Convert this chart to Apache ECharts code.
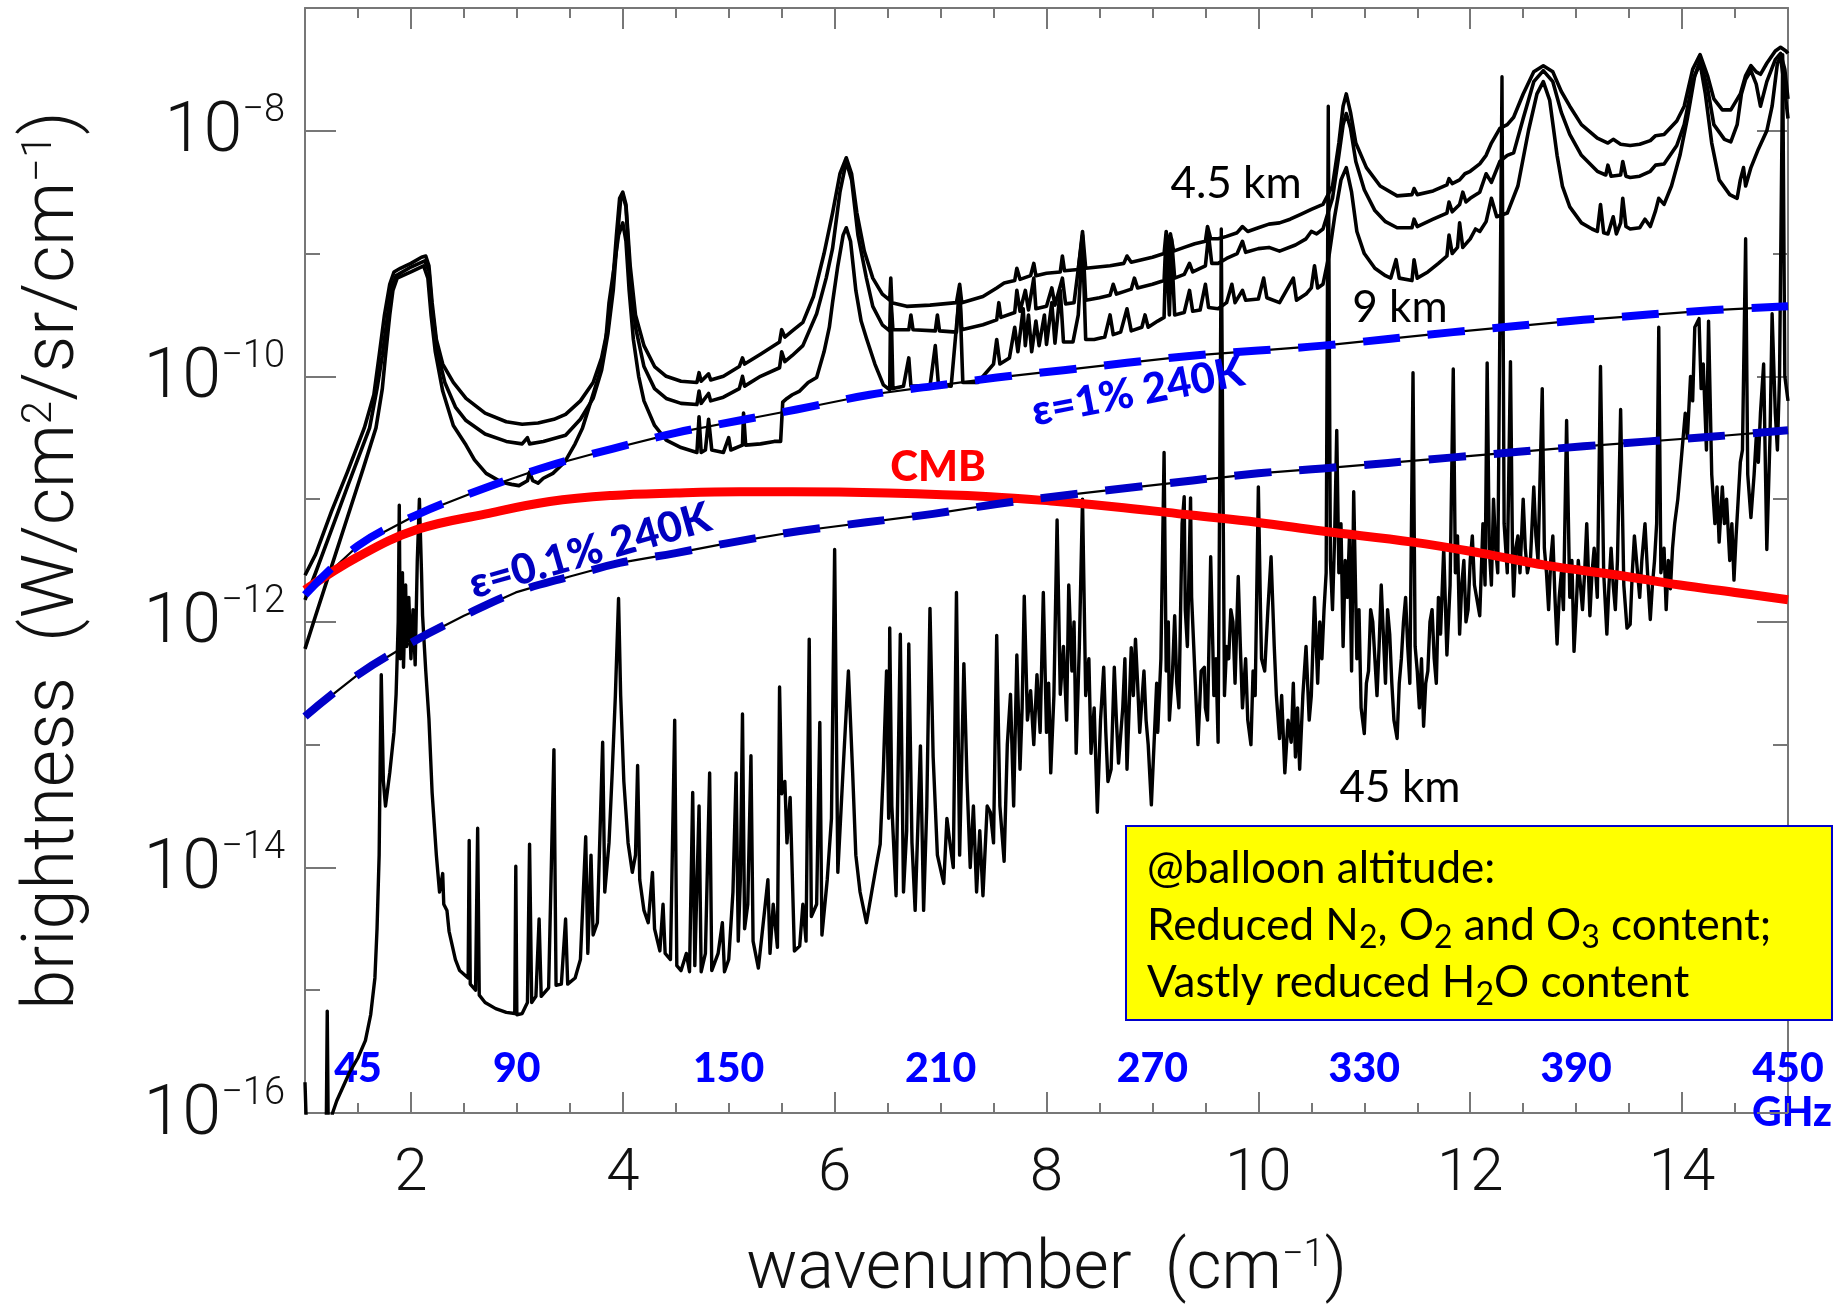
<!DOCTYPE html>
<html><head><meta charset="utf-8">
<script src="https://cdn.jsdelivr.net/npm/echarts@6/dist/echarts.min.js"></script>
<style>html,body{margin:0;padding:0;background:#fff}#c{width:1842px;height:1310px}</style>
</head><body><div id="c"></div>
<script>
// ---- axis ticks / labels ----
const xMajorTicks = [2, 4, 6, 8, 10, 12, 14];
const yMajorExps = [-16, -14, -12, -10, -8];
const yMinorExps = [-15, -13, -11, -9];
const ghzTicks = [45, 90, 150, 210, 270, 330, 390, 450];

// ---- series: [wavenumber cm^-1, log10 brightness W/cm^2/sr/cm^-1] ----
const cmbLog = [[1.0,-11.74],[1.5,-11.47],[2.05,-11.25],[2.71,-11.12],[3.31,-11.02],[3.9,-10.97],[4.5,-10.95],[5.1,-10.94],[5.6,-10.94],[6.5,-10.95],[7.47,-10.98],[8.1,-11.02],[8.73,-11.07],[9.36,-11.13],[10.0,-11.19],[10.6,-11.26],[11.46,-11.35],[12.1,-11.44],[12.72,-11.54],[13.4,-11.62],[13.98,-11.70],[14.5,-11.76],[15.0,-11.82]];

const eps1Log = [[1.0,-11.78],[1.5,-11.38],[2.05,-11.13],[2.7,-10.91],[3.3,-10.73],[3.9,-10.59],[4.5,-10.46],[5.1,-10.36],[5.64,-10.27],[6.33,-10.15],[6.93,-10.08],[7.53,-10.01],[8.16,-9.95],[8.76,-9.89],[9.4,-9.83],[10.0,-9.79],[10.61,-9.75],[11.84,-9.64],[13.07,-9.54],[14.3,-9.46],[15.0,-9.43]];

const eps01Log = [[1.0,-12.77],[1.5,-12.43],[1.98,-12.18],[2.5,-11.95],[2.99,-11.76],[3.5,-11.63],[3.97,-11.52],[4.5,-11.44],[4.98,-11.36],[5.67,-11.26],[6.93,-11.12],[7.53,-11.04],[8.16,-10.97],[8.76,-10.91],[10.0,-10.79],[10.61,-10.75],[11.84,-10.66],[13.07,-10.57],[14.3,-10.49],[15.0,-10.44]];

const alt4p5kmLog = [[1.0,-11.62],[1.1,-11.45],[1.25,-11.1],[1.4,-10.78],[1.56,-10.42],[1.65,-10.15],[1.70,-9.83],[1.75,-9.5],[1.80,-9.25],[1.84,-9.15],[1.9,-9.12],[2.0,-9.08],[2.1,-9.03],[2.14,-9.02],[2.17,-9.1],[2.2,-9.4],[2.24,-9.7],[2.3,-9.9],[2.4,-10.05],[2.52,-10.18],[2.7,-10.3],[2.9,-10.37],[3.05,-10.39],[3.2,-10.38],[3.35,-10.35],[3.46,-10.31],[3.6,-10.2],[3.72,-10.05],[3.8,-9.85],[3.86,-9.6],[3.9,-9.3],[3.94,-8.85],[3.97,-8.55],[4.0,-8.5],[4.03,-8.6],[4.07,-9.1],[4.12,-9.5],[4.2,-9.75],[4.3,-9.92],[4.41,-10.0],[4.55,-10.04],[4.7,-10.05],[4.72,-9.97],[4.74,-10.04],[4.81,-9.98],[4.83,-10.03],[4.95,-10.0],[5.1,-9.92],[5.13,-9.85],[5.15,-9.9],[5.3,-9.82],[5.48,-9.72],[5.50,-9.62],[5.53,-9.68],[5.6,-9.63],[5.7,-9.56],[5.8,-9.35],[5.9,-9.0],[5.98,-8.67],[6.05,-8.35],[6.11,-8.22],[6.16,-8.35],[6.21,-8.67],[6.28,-8.98],[6.36,-9.2],[6.45,-9.33],[6.52,-9.38],[6.53,-9.2],[6.54,-9.4],[6.68,-9.43],[6.9,-9.42],[7.15,-9.40],[7.18,-9.25],[7.2,-9.40],[7.4,-9.35],[7.53,-9.28],[7.6,-9.24],[7.7,-9.22],[7.72,-9.12],[7.75,-9.21],[7.85,-9.18],[7.88,-9.08],[7.9,-9.18],[8.0,-9.16],[8.13,-9.15],[8.15,-9.02],[8.17,-9.14],[8.3,-9.13],[8.34,-8.82],[8.37,-9.12],[8.6,-9.10],[8.73,-9.08],[8.76,-9.02],[8.8,-9.07],[9.0,-9.03],[9.11,-9.0],[9.13,-8.82],[9.15,-8.98],[9.17,-8.84],[9.2,-8.98],[9.3,-8.95],[9.4,-8.92],[9.5,-8.9],[9.52,-8.78],[9.55,-8.88],[9.62,-8.88],[9.7,-8.86],[9.8,-8.83],[9.85,-8.78],[9.9,-8.82],[10.0,-8.79],[10.1,-8.76],[10.2,-8.75],[10.3,-8.72],[10.4,-8.68],[10.5,-8.64],[10.61,-8.6],[10.7,-8.45],[10.76,-8.1],[10.8,-7.8],[10.83,-7.7],[10.87,-7.85],[10.92,-8.1],[11.02,-8.3],[11.15,-8.45],[11.31,-8.53],[11.45,-8.52],[11.47,-8.47],[11.5,-8.52],[11.65,-8.49],[11.78,-8.44],[11.8,-8.39],[11.83,-8.43],[11.9,-8.4],[11.95,-8.35],[12.0,-8.33],[12.09,-8.27],[12.15,-8.2],[12.2,-8.1],[12.28,-7.98],[12.35,-7.95],[12.41,-7.89],[12.5,-7.7],[12.6,-7.52],[12.69,-7.47],[12.78,-7.52],[12.86,-7.68],[12.94,-7.80],[13.05,-7.95],[13.2,-8.06],[13.3,-8.10],[13.35,-8.07],[13.42,-8.11],[13.51,-8.12],[13.6,-8.11],[13.7,-8.08],[13.75,-8.04],[13.83,-8.03],[13.95,-7.92],[14.02,-7.80],[14.1,-7.5],[14.17,-7.38],[14.24,-7.55],[14.3,-7.74],[14.38,-7.83],[14.46,-7.83],[14.55,-7.7],[14.6,-7.55],[14.65,-7.47],[14.7,-7.52],[14.74,-7.54],[14.8,-7.45],[14.88,-7.35],[14.93,-7.32],[14.98,-7.35],[15.0,-7.37]];

const altMidLog = [[1.0,-11.82],[1.1,-11.6],[1.25,-11.25],[1.4,-10.9],[1.61,-10.42],[1.68,-10.1],[1.73,-9.83],[1.78,-9.5],[1.82,-9.27],[1.86,-9.18],[2.0,-9.11],[2.13,-9.06],[2.17,-9.14],[2.2,-9.45],[2.25,-9.8],[2.32,-10.05],[2.42,-10.25],[2.52,-10.36],[2.7,-10.47],[2.9,-10.53],[3.05,-10.55],[3.1,-10.5],[3.12,-10.55],[3.25,-10.53],[3.46,-10.48],[3.6,-10.35],[3.72,-10.18],[3.8,-9.95],[3.86,-9.65],[3.91,-9.3],[3.95,-8.85],[3.98,-8.56],[4.0,-8.52],[4.03,-8.62],[4.07,-9.2],[4.12,-9.6],[4.2,-9.92],[4.3,-10.1],[4.41,-10.18],[4.55,-10.22],[4.7,-10.23],[4.72,-10.12],[4.74,-10.22],[4.81,-10.14],[4.83,-10.2],[4.95,-10.17],[5.1,-10.1],[5.13,-10.0],[5.15,-10.08],[5.3,-10.0],[5.48,-9.93],[5.50,-9.8],[5.53,-9.88],[5.6,-9.83],[5.7,-9.75],[5.83,-9.49],[5.92,-9.2],[5.98,-8.96],[6.05,-8.5],[6.11,-8.25],[6.16,-8.4],[6.22,-8.85],[6.3,-9.2],[6.36,-9.43],[6.45,-9.58],[6.52,-9.63],[6.53,-9.35],[6.55,-9.62],[6.7,-9.62],[6.72,-9.5],[6.74,-9.62],[6.95,-9.63],[6.97,-9.5],[6.99,-9.63],[7.15,-9.64],[7.18,-9.28],[7.2,-9.62],[7.4,-9.58],[7.53,-9.54],[7.55,-9.4],[7.57,-9.52],[7.7,-9.48],[7.72,-9.3],[7.75,-9.47],[7.8,-9.3],[7.83,-9.46],[7.88,-9.2],[7.9,-9.45],[8.0,-9.43],[8.05,-9.28],[8.08,-9.42],[8.15,-9.2],[8.18,-9.41],[8.26,-9.40],[8.34,-8.85],[8.37,-9.38],[8.5,-9.36],[8.6,-9.34],[8.63,-9.25],[8.66,-9.33],[8.73,-9.31],[8.8,-9.29],[8.83,-9.2],[8.86,-9.28],[9.0,-9.25],[9.11,-9.22],[9.13,-8.85],[9.15,-9.2],[9.18,-8.88],[9.21,-9.2],[9.3,-9.17],[9.35,-9.08],[9.38,-9.15],[9.5,-9.1],[9.53,-8.85],[9.56,-9.08],[9.62,-9.08],[9.7,-9.04],[9.8,-9.0],[9.85,-8.9],[9.88,-8.99],[10.0,-8.96],[10.1,-8.95],[10.2,-8.98],[10.35,-8.93],[10.45,-8.88],[10.5,-8.82],[10.55,-8.84],[10.61,-8.8],[10.7,-8.55],[10.76,-8.2],[10.8,-7.95],[10.83,-7.86],[10.87,-7.98],[10.92,-8.25],[11.0,-8.48],[11.1,-8.65],[11.2,-8.74],[11.31,-8.79],[11.45,-8.79],[11.47,-8.72],[11.5,-8.78],[11.65,-8.72],[11.78,-8.67],[11.8,-8.58],[11.83,-8.66],[11.9,-8.6],[11.93,-8.5],[11.96,-8.58],[12.0,-8.55],[12.09,-8.5],[12.15,-8.35],[12.2,-8.42],[12.28,-8.25],[12.35,-8.2],[12.41,-8.18],[12.5,-7.9],[12.6,-7.6],[12.69,-7.51],[12.78,-7.6],[12.86,-7.85],[12.94,-8.03],[13.05,-8.2],[13.2,-8.33],[13.28,-8.36],[13.3,-8.28],[13.33,-8.37],[13.42,-8.36],[13.44,-8.25],[13.47,-8.37],[13.51,-8.38],[13.6,-8.37],[13.7,-8.33],[13.75,-8.28],[13.83,-8.27],[13.95,-8.12],[14.02,-7.95],[14.1,-7.6],[14.17,-7.43],[14.24,-7.65],[14.3,-7.95],[14.4,-8.07],[14.46,-8.09],[14.52,-7.95],[14.56,-7.7],[14.6,-7.58],[14.65,-7.51],[14.7,-7.62],[14.74,-7.8],[14.8,-7.6],[14.88,-7.42],[14.93,-7.37],[14.97,-7.5],[15.0,-7.74]];

const alt9kmLog = [[1.0,-12.22],[1.1,-11.95],[1.25,-11.55],[1.4,-11.15],[1.55,-10.75],[1.67,-10.42],[1.73,-10.1],[1.76,-9.83],[1.8,-9.5],[1.83,-9.3],[1.87,-9.2],[2.0,-9.15],[2.12,-9.1],[2.16,-9.2],[2.19,-9.5],[2.23,-9.8],[2.3,-10.12],[2.4,-10.4],[2.52,-10.56],[2.6,-10.68],[2.71,-10.79],[2.85,-10.86],[2.95,-10.88],[3.02,-10.89],[3.1,-10.85],[3.12,-10.78],[3.15,-10.85],[3.2,-10.87],[3.25,-10.83],[3.34,-10.79],[3.45,-10.7],[3.55,-10.55],[3.62,-10.42],[3.7,-10.2],[3.78,-9.98],[3.84,-9.7],[3.87,-9.40],[3.92,-9.1],[3.96,-8.85],[4.0,-8.75],[4.03,-8.9],[4.06,-9.3],[4.1,-9.7],[4.15,-10.0],[4.2,-10.2],[4.3,-10.4],[4.41,-10.52],[4.55,-10.58],[4.7,-10.62],[4.72,-10.33],[4.74,-10.62],[4.78,-10.6],[4.81,-10.35],[4.84,-10.6],[4.95,-10.62],[5.0,-10.5],[5.02,-10.6],[5.13,-10.56],[5.14,-10.3],[5.16,-10.56],[5.3,-10.55],[5.43,-10.53],[5.49,-10.53],[5.51,-10.21],[5.55,-10.18],[5.6,-10.15],[5.67,-10.12],[5.75,-10.05],[5.83,-10.01],[5.9,-9.8],[5.95,-9.6],[5.98,-9.4],[6.03,-9.1],[6.08,-8.85],[6.11,-8.79],[6.15,-8.9],[6.2,-9.3],[6.25,-9.55],[6.3,-9.69],[6.38,-9.9],[6.46,-10.07],[6.52,-10.11],[6.53,-9.3],[6.55,-10.1],[6.65,-10.08],[6.70,-9.85],[6.72,-10.08],[6.9,-10.08],[6.95,-9.75],[6.98,-10.07],[7.1,-10.08],[7.18,-9.3],[7.21,-10.05],[7.35,-10.05],[7.5,-9.9],[7.53,-9.7],[7.56,-9.9],[7.65,-9.85],[7.7,-9.6],[7.73,-9.8],[7.78,-9.45],[7.8,-9.75],[7.83,-9.5],[7.86,-9.8],[7.9,-9.55],[7.93,-9.75],[7.98,-9.5],[8.0,-9.74],[8.05,-9.4],[8.08,-9.73],[8.13,-9.3],[8.16,-9.72],[8.25,-9.72],[8.3,-9.5],[8.34,-8.9],[8.37,-9.7],[8.45,-9.7],[8.55,-9.68],[8.6,-9.5],[8.63,-9.66],[8.7,-9.64],[8.76,-9.45],[8.8,-9.63],[8.9,-9.6],[8.93,-9.5],[8.96,-9.6],[9.05,-9.55],[9.11,-9.52],[9.13,-8.9],[9.16,-9.5],[9.18,-8.95],[9.21,-9.5],[9.3,-9.48],[9.35,-9.3],[9.38,-9.47],[9.45,-9.46],[9.5,-9.25],[9.53,-9.44],[9.62,-9.45],[9.7,-9.4],[9.75,-9.25],[9.78,-9.4],[9.85,-9.3],[9.88,-9.38],[10.0,-9.37],[10.05,-9.2],[10.08,-9.36],[10.2,-9.40],[10.33,-9.2],[10.36,-9.38],[10.45,-9.33],[10.5,-9.28],[10.53,-9.1],[10.56,-9.28],[10.61,-9.25],[10.67,-9.0],[10.72,-8.7],[10.78,-8.4],[10.83,-8.30],[10.88,-8.5],[10.93,-8.82],[11.0,-9.0],[11.1,-9.12],[11.2,-9.18],[11.25,-9.2],[11.3,-9.05],[11.33,-9.2],[11.45,-9.22],[11.47,-9.05],[11.5,-9.2],[11.6,-9.15],[11.7,-9.08],[11.78,-9.02],[11.8,-8.85],[11.83,-9.0],[11.88,-8.95],[11.9,-8.75],[11.93,-8.95],[12.0,-8.88],[12.05,-8.8],[12.09,-8.82],[12.15,-8.74],[12.2,-8.55],[12.25,-8.7],[12.35,-8.67],[12.45,-8.45],[12.55,-8.0],[12.63,-7.7],[12.69,-7.60],[12.75,-7.75],[12.82,-8.2],[12.87,-8.45],[12.94,-8.62],[13.05,-8.75],[13.15,-8.8],[13.2,-8.82],[13.23,-8.6],[13.26,-8.83],[13.3,-8.84],[13.35,-8.7],[13.38,-8.84],[13.42,-8.75],[13.44,-8.55],[13.47,-8.78],[13.51,-8.8],[13.6,-8.79],[13.65,-8.72],[13.7,-8.78],[13.75,-8.65],[13.78,-8.55],[13.83,-8.6],[13.9,-8.45],[13.98,-8.2],[14.05,-7.9],[14.12,-7.55],[14.17,-7.45],[14.22,-7.7],[14.28,-8.1],[14.35,-8.4],[14.45,-8.52],[14.52,-8.55],[14.55,-8.4],[14.58,-8.3],[14.6,-8.45],[14.65,-8.3],[14.72,-8.15],[14.8,-8.0],[14.85,-7.8],[14.9,-7.45],[14.93,-7.40],[14.96,-7.6],[15.0,-7.9]];

const alt45kmLog = [[1.0,-15.75],[1.02,-16.3],[1.18,-16.3],[1.2,-16.2],[1.21,-15.17],[1.22,-16.2],[1.26,-16.0],[1.3,-15.9],[1.42,-15.67],[1.5,-15.55],[1.57,-15.41],[1.62,-15.2],[1.66,-14.9],[1.68,-14.5],[1.7,-13.9],[1.71,-13.1],[1.72,-12.43],[1.74,-13.3],[1.76,-13.5],[1.8,-13.23],[1.84,-12.9],[1.86,-12.59],[1.88,-12.0],[1.89,-11.05],[1.9,-12.3],[1.92,-11.6],[1.93,-12.37],[1.95,-11.7],[1.96,-12.2],[1.98,-11.8],[2.0,-12.3],[2.02,-11.9],[2.04,-12.35],[2.06,-11.5],[2.08,-11.0],[2.1,-11.6],[2.11,-11.95],[2.14,-12.4],[2.17,-12.79],[2.2,-13.39],[2.24,-13.9],[2.27,-14.2],[2.3,-14.05],[2.31,-14.3],[2.34,-14.35],[2.36,-14.52],[2.42,-14.75],[2.46,-14.84],[2.54,-14.9],[2.55,-13.78],[2.56,-14.95],[2.61,-15.0],[2.63,-13.68],[2.645,-15.04],[2.7,-15.1],[2.8,-15.15],[2.9,-15.18],[2.98,-15.19],[2.99,-13.99],[3.0,-15.2],[3.05,-15.19],[3.1,-15.1],[3.12,-13.81],[3.14,-15.1],[3.18,-15.05],[3.21,-14.42],[3.23,-15.05],[3.3,-14.98],[3.35,-13.04],[3.37,-14.96],[3.42,-14.95],[3.46,-14.42],[3.48,-14.95],[3.55,-14.9],[3.6,-14.75],[3.65,-13.75],[3.67,-14.7],[3.7,-13.9],[3.72,-14.55],[3.76,-14.45],[3.81,-12.98],[3.83,-14.2],[3.87,-13.8],[3.9,-13.23],[3.93,-12.6],[3.96,-11.81],[3.98,-12.6],[4.01,-13.3],[4.05,-13.8],[4.09,-14.04],[4.12,-13.9],[4.14,-13.17],[4.16,-14.1],[4.2,-14.35],[4.24,-14.45],[4.28,-14.04],[4.3,-14.5],[4.35,-14.68],[4.38,-14.3],[4.4,-14.7],[4.45,-14.75],[4.49,-12.8],[4.51,-14.8],[4.55,-14.84],[4.6,-14.7],[4.63,-14.85],[4.66,-13.39],[4.68,-14.8],[4.72,-13.5],[4.74,-14.85],[4.78,-14.7],[4.82,-13.23],[4.84,-14.84],[4.9,-14.7],[4.94,-14.45],[4.96,-14.85],[5.0,-14.75],[5.04,-14.2],[5.07,-13.23],[5.09,-14.6],[5.11,-14.1],[5.13,-12.75],[5.15,-14.5],[5.18,-14.3],[5.21,-13.09],[5.23,-14.6],[5.28,-14.82],[5.32,-14.5],[5.37,-14.1],[5.39,-14.7],[5.42,-14.3],[5.46,-14.65],[5.48,-12.53],[5.5,-13.4],[5.53,-13.3],[5.55,-13.8],[5.58,-13.43],[5.62,-14.68],[5.67,-14.64],[5.7,-14.3],[5.73,-14.6],[5.76,-12.14],[5.78,-14.4],[5.83,-14.3],[5.86,-12.82],[5.88,-14.55],[5.93,-14.1],[5.97,-13.6],[6.0,-11.41],[6.03,-14.04],[6.08,-13.2],[6.13,-12.40],[6.17,-13.23],[6.2,-13.9],[6.24,-14.2],[6.3,-14.45],[6.35,-14.2],[6.39,-14.0],[6.43,-13.81],[6.46,-13.2],[6.49,-12.4],[6.51,-13.6],[6.52,-12.05],[6.54,-13.5],[6.58,-14.23],[6.62,-12.1],[6.65,-14.2],[6.68,-13.7],[6.7,-12.18],[6.73,-13.8],[6.76,-14.35],[6.81,-13.01],[6.84,-14.35],[6.87,-13.5],[6.9,-11.89],[6.93,-13.1],[6.97,-13.9],[7.03,-14.13],[7.06,-13.6],[7.09,-13.81],[7.12,-14.0],[7.15,-11.76],[7.18,-13.9],[7.22,-12.34],[7.25,-13.3],[7.28,-14.0],[7.31,-13.5],[7.34,-14.2],[7.37,-13.7],[7.4,-14.23],[7.44,-13.5],[7.47,-13.55],[7.5,-13.8],[7.53,-12.11],[7.56,-13.5],[7.6,-13.95],[7.63,-13.0],[7.66,-12.59],[7.69,-13.5],[7.72,-12.27],[7.75,-13.2],[7.77,-12.7],[7.79,-11.79],[7.82,-12.8],[7.85,-12.56],[7.88,-13.0],[7.91,-12.43],[7.94,-12.9],[7.97,-11.76],[8.0,-12.9],[8.02,-12.5],[8.04,-13.23],[8.07,-12.6],[8.1,-11.17],[8.13,-12.59],[8.16,-12.2],[8.19,-12.8],[8.21,-11.70],[8.24,-12.4],[8.26,-12.0],[8.28,-13.07],[8.31,-12.2],[8.34,-11.0],[8.37,-12.6],[8.4,-12.3],[8.42,-13.07],[8.45,-12.7],[8.48,-13.55],[8.51,-12.8],[8.54,-12.37],[8.56,-12.9],[8.58,-13.3],[8.61,-13.2],[8.64,-12.37],[8.66,-12.8],[8.68,-13.15],[8.72,-12.7],[8.74,-12.3],[8.76,-13.2],[8.8,-12.21],[8.82,-12.6],[8.84,-12.14],[8.86,-12.5],[8.88,-12.9],[8.92,-12.4],[8.94,-12.8],[8.96,-13.0],[8.99,-13.49],[9.02,-12.9],[9.04,-12.5],[9.05,-12.9],[9.08,-12.3],[9.11,-10.62],[9.13,-12.4],[9.15,-12.0],[9.16,-12.8],[9.19,-12.4],[9.21,-11.95],[9.23,-12.5],[9.25,-12.7],[9.28,-11.2],[9.3,-10.98],[9.31,-11.9],[9.33,-12.2],[9.36,-10.99],[9.37,-11.8],[9.39,-12.2],[9.41,-12.6],[9.43,-13.0],[9.46,-12.4],[9.49,-12.37],[9.5,-12.7],[9.52,-12.8],[9.55,-11.47],[9.57,-12.2],[9.58,-12.6],[9.6,-12.3],[9.62,-12.98],[9.65,-8.8],[9.68,-12.6],[9.7,-12.2],[9.72,-12.3],[9.74,-11.9],[9.76,-12.0],[9.78,-12.5],[9.81,-11.63],[9.83,-12.2],[9.85,-12.7],[9.88,-12.3],[9.9,-12.8],[9.93,-13.0],[9.95,-12.4],[9.97,-12.6],[10.0,-10.9],[10.02,-11.9],[10.03,-12.3],[10.06,-12.4],[10.09,-11.9],[10.12,-11.47],[10.15,-12.2],[10.17,-12.6],[10.2,-12.95],[10.22,-12.6],[10.25,-13.23],[10.28,-12.8],[10.31,-12.98],[10.33,-12.5],[10.35,-13.1],[10.37,-12.7],[10.39,-13.2],[10.42,-12.6],[10.45,-12.2],[10.48,-12.8],[10.5,-12.6],[10.53,-11.8],[10.56,-12.5],[10.58,-12.0],[10.6,-12.3],[10.62,-11.9],[10.64,-11.6],[10.66,-7.8],[10.68,-11.5],[10.7,-11.9],[10.72,-11.3],[10.74,-10.44],[10.76,-11.6],[10.78,-11.2],[10.8,-12.2],[10.82,-11.5],[10.84,-11.8],[10.86,-11.3],[10.88,-12.4],[10.9,-10.94],[10.93,-12.3],[10.95,-11.9],[10.97,-12.7],[11.0,-12.91],[11.02,-12.5],[11.04,-12.4],[11.06,-11.9],[11.08,-12.0],[11.1,-12.3],[11.12,-12.6],[11.14,-12.2],[11.16,-11.7],[11.18,-12.1],[11.2,-12.5],[11.22,-11.9],[11.24,-12.1],[11.26,-12.5],[11.28,-12.8],[11.31,-12.95],[11.33,-12.5],[11.35,-12.3],[11.37,-12.0],[11.39,-11.8],[11.41,-12.2],[11.43,-12.5],[11.46,-9.97],[11.48,-12.2],[11.5,-12.4],[11.52,-12.7],[11.54,-12.3],[11.56,-12.85],[11.58,-12.5],[11.6,-12.4],[11.62,-12.0],[11.64,-11.9],[11.66,-12.3],[11.68,-12.5],[11.7,-11.8],[11.72,-12.1],[11.75,-11.4],[11.78,-12.27],[11.81,-11.7],[11.84,-9.94],[11.86,-11.6],[11.88,-11.3],[11.9,-12.1],[11.92,-11.7],[11.94,-11.5],[11.96,-12.0],[11.98,-11.9],[12.0,-11.5],[12.02,-11.3],[12.04,-11.7],[12.06,-11.8],[12.09,-11.95],[12.12,-11.2],[12.14,-11.7],[12.16,-9.89],[12.18,-11.4],[12.2,-11.7],[12.22,-11.0],[12.24,-11.4],[12.26,-11.6],[12.3,-7.56],[12.32,-11.2],[12.35,-11.6],[12.38,-9.88],[12.4,-11.5],[12.41,-11.79],[12.43,-11.4],[12.45,-11.3],[12.47,-11.6],[12.5,-11.0],[12.52,-11.4],[12.54,-11.6],[12.57,-11.47],[12.6,-10.9],[12.62,-11.3],[12.64,-11.5],[12.68,-10.10],[12.7,-11.4],[12.72,-11.6],[12.74,-11.9],[12.76,-11.5],[12.78,-11.3],[12.8,-11.8],[12.82,-12.18],[12.84,-11.8],[12.86,-11.6],[12.88,-11.9],[12.91,-10.36],[12.94,-11.8],[12.96,-11.5],[12.98,-12.24],[13.0,-11.9],[13.02,-11.5],[13.04,-11.7],[13.06,-11.9],[13.08,-11.6],[13.1,-11.2],[13.13,-11.95],[13.15,-11.6],[13.17,-11.4],[13.2,-11.8],[13.23,-9.92],[13.26,-11.6],[13.29,-12.10],[13.31,-11.7],[13.33,-11.4],[13.35,-11.7],[13.37,-11.9],[13.39,-11.5],[13.42,-10.27],[13.45,-11.7],[13.48,-12.05],[13.51,-12.02],[13.53,-11.6],[13.55,-11.3],[13.58,-11.6],[13.6,-11.8],[13.62,-11.5],[13.65,-11.2],[13.68,-11.7],[13.7,-11.98],[13.72,-11.7],[13.74,-11.5],[13.76,-11.2],[13.78,-9.60],[13.8,-11.6],[13.83,-11.4],[13.85,-11.9],[13.87,-11.5],[13.89,-11.73],[13.91,-11.4],[13.93,-11.2],[13.96,-11.0],[13.98,-10.8],[14.0,-10.6],[14.03,-10.3],[14.05,-10.5],[14.08,-10.0],[14.1,-10.2],[14.12,-9.6],[14.16,-9.53],[14.18,-10.1],[14.2,-9.9],[14.23,-10.6],[14.25,-9.55],[14.28,-10.8],[14.31,-11.2],[14.33,-10.9],[14.35,-11.35],[14.38,-10.9],[14.4,-11.2],[14.42,-11.0],[14.45,-11.5],[14.47,-11.2],[14.49,-11.66],[14.51,-11.3],[14.53,-11.0],[14.55,-10.7],[14.57,-10.6],[14.6,-8.88],[14.62,-10.8],[14.65,-11.15],[14.68,-10.8],[14.7,-10.5],[14.72,-10.7],[14.74,-10.3],[14.77,-9.9],[14.8,-11.41],[14.83,-10.5],[14.85,-9.49],[14.88,-10.3],[14.9,-10.6],[14.92,-10.0],[14.95,-7.38],[14.97,-10.0],[15.0,-10.2]];

// ---- chart ----
const axisColor = '#777';
const thinFont = "Roboto,'Noto Sans','DejaVu Sans',sans-serif";
const calib = "Lato,'Open Sans',sans-serif";
const lineSt = {color: axisColor, width: 2};

function lineSeries(name, data, color, width, z, dash) {
  return {
    name, type: 'line', data, xAxisIndex: 0, yAxisIndex: 0, showSymbol: false, symbol: 'none',
    z, silent: true, animation: false,
    lineStyle: {color, width, type: dash || 'solid', cap: 'butt', join: 'round'}
  };
}

const option = {
  animation: false,
  backgroundColor: '#ffffff',
  grid: {left: 305, right: 54, top: 8, bottom: 194, containLabel: false},
  xAxis: [
    {type: 'value', min: 1, max: 15, position: 'bottom',
      axisLine: {onZero: false, lineStyle: lineSt},
      axisTick: {inside: true, length: 21, customValues: xMajorTicks, lineStyle: lineSt},
      axisLabel: {customValues: xMajorTicks, margin: 32, fontSize: 60, fontWeight: 300, color: '#111', fontFamily: thinFont},
      splitLine: {show: false},
      name: 'wavenumber  (cm{sup|−1})', nameLocation: 'middle', nameGap: 124,
      nameTextStyle: {fontSize: 68, fontWeight: 300, color: '#111', fontFamily: thinFont,
        rich: {sup: {fontSize: 38, fontWeight: 300, verticalAlign: 'top', lineHeight: 34, fontFamily: thinFont, color: '#111'}}}},
    {type: 'value', min: 1, max: 15, position: 'bottom', interval: 0.5,
      axisLine: {show: false, onZero: false}, axisTick: {inside: true, length: 10, lineStyle: lineSt},
      axisLabel: {show: false}, splitLine: {show: false}},
    {type: 'value', min: 1, max: 15, position: 'top',
      axisLine: {onZero: false, lineStyle: lineSt},
      axisTick: {inside: true, length: 21, customValues: xMajorTicks, lineStyle: lineSt},
      axisLabel: {show: false}, splitLine: {show: false}},
    {type: 'value', min: 1, max: 15, position: 'top', interval: 0.5,
      axisLine: {show: false, onZero: false}, axisTick: {inside: true, length: 10, lineStyle: lineSt},
      axisLabel: {show: false}, splitLine: {show: false}},
    {type: 'value', min: 30, max: 450, position: 'bottom',
      axisLine: {show: false, onZero: false}, axisTick: {show: false},
      axisLabel: {customValues: ghzTicks, inside: true, margin: 24, fontSize: 41, fontWeight: 900,
        color: '#0000FF', fontFamily: calib},
      splitLine: {show: false},
      name: 'GHz', nameLocation: 'end', nameGap: 4,
      nameTextStyle: {fontSize: 41, fontWeight: 900, color: '#0000FF', fontFamily: calib, align: 'center', verticalAlign: 'middle'}}
  ],
  yAxis: [
    {type: 'value', min: -16, max: -7, position: 'left',
      axisLine: {onZero: false, lineStyle: lineSt},
      axisTick: {inside: true, length: 31, customValues: yMajorExps, lineStyle: lineSt},
      axisLabel: {customValues: yMajorExps, margin: 20,
        formatter: v => '{b|10}{s|−' + Math.abs(v) + '}',
        rich: {
          b: {fontSize: 70, fontWeight: 300, fontFamily: thinFont, color: '#111', lineHeight: 76, verticalAlign: 'bottom'},
          s: {fontSize: 38, fontWeight: 300, fontFamily: thinFont, color: '#111', lineHeight: 42, verticalAlign: 'top'}
        }},
      splitLine: {show: false},
      name: 'brightness  (W/cm{sup|2}/sr/cm{sup|−1})', nameLocation: 'middle', nameGap: 214,
      nameTextStyle: {fontSize: 72, fontWeight: 300, color: '#111', fontFamily: thinFont,
        rich: {sup: {fontSize: 42, fontWeight: 300, verticalAlign: 'top', lineHeight: 34, fontFamily: thinFont, color: '#111'}}}},
    {type: 'value', min: -16, max: -7, position: 'left',
      axisLine: {show: false, onZero: false},
      axisTick: {inside: true, length: 15, customValues: yMinorExps, lineStyle: lineSt},
      axisLabel: {show: false}, splitLine: {show: false}},
    {type: 'value', min: -16, max: -7, position: 'right',
      axisLine: {onZero: false, lineStyle: lineSt},
      axisTick: {inside: true, length: 31, customValues: yMajorExps, lineStyle: lineSt},
      axisLabel: {show: false}, splitLine: {show: false}},
    {type: 'value', min: -16, max: -7, position: 'right',
      axisLine: {show: false, onZero: false},
      axisTick: {inside: true, length: 15, customValues: yMinorExps, lineStyle: lineSt},
      axisLabel: {show: false}, splitLine: {show: false}}
  ],
  series: [
    lineSeries('45 km', alt45kmLog, '#000', 3.4, 2),
    lineSeries('9 km', alt9kmLog, '#000', 3.6, 3),
    lineSeries('mid', altMidLog, '#000', 3.6, 3),
    lineSeries('4.5 km', alt4p5kmLog, '#000', 3.6, 3),
    lineSeries('eps1 thin', eps1Log, '#000', 2.2, 4),
    lineSeries('eps01 thin', eps01Log, '#000', 2.2, 4),
    Object.assign(lineSeries('CMB', cmbLog, '#FF0000', 9, 5), {smooth: 0.4}),
    Object.assign(lineSeries('eps1', eps1Log, '#0000FF', 8, 6, [37, 28]), {smooth: 0.4}),
    Object.assign(lineSeries('eps01', eps01Log, '#0000C8', 8, 6, [37, 28]), {smooth: 0.4})
  ],
  graphic: [
    {type: 'text', x: 1236, y: 184, z: 50, style: {text: '4.5 km', fontSize: 44, fontFamily: calib, fill: '#000', align: 'center', verticalAlign: 'middle'}},
    {type: 'text', x: 1400, y: 308, z: 50, style: {text: '9 km', fontSize: 44, fontFamily: calib, fill: '#000', align: 'center', verticalAlign: 'middle'}},
    {type: 'text', x: 1400, y: 788, z: 50, style: {text: '45 km', fontSize: 44, fontFamily: calib, fill: '#000', align: 'center', verticalAlign: 'middle'}},
    {type: 'text', x: 938, y: 467, z: 50, style: {text: 'CMB', fontSize: 42, fontWeight: 900, fontFamily: calib, fill: '#FF0000', align: 'center', verticalAlign: 'middle'}},
    {type: 'text', x: 1138, y: 392, z: 50, rotation: 11 * Math.PI / 180, style: {text: 'ε=1% 240K', fontSize: 42, fontWeight: 900, fontFamily: calib, fill: '#0000EE', align: 'center', verticalAlign: 'middle'}},
    {type: 'text', x: 590, y: 551, z: 50, rotation: 16 * Math.PI / 180, style: {text: 'ε=0.1% 240K', fontSize: 42, fontWeight: 900, fontFamily: calib, fill: '#0000C0', align: 'center', verticalAlign: 'middle'}},
    {type: 'rect', z: 100, shape: {x: 1126, y: 826, width: 706, height: 194}, style: {fill: '#FFFF00', stroke: '#0000CC', lineWidth: 2}},
    {type: 'text', x: 1147, y: 840, z: 101, style: {
      text: '@balloon altitude:\nReduced N{sub|2}, O{sub|2} and O{sub|3} content;\nVastly reduced H{sub|2}O content',
      fontSize: 44, fontFamily: calib, fill: '#000', lineHeight: 57, align: 'left', verticalAlign: 'top',
      rich: {sub: {fontSize: 32, fontFamily: calib, fill: '#000', lineHeight: 28, verticalAlign: 'bottom'}}
    }}
  ]
};

const chart = echarts.init(document.getElementById('c'), null, {renderer: 'canvas', width: 1842, height: 1310});
chart.setOption(option);
</script>
</body></html>
